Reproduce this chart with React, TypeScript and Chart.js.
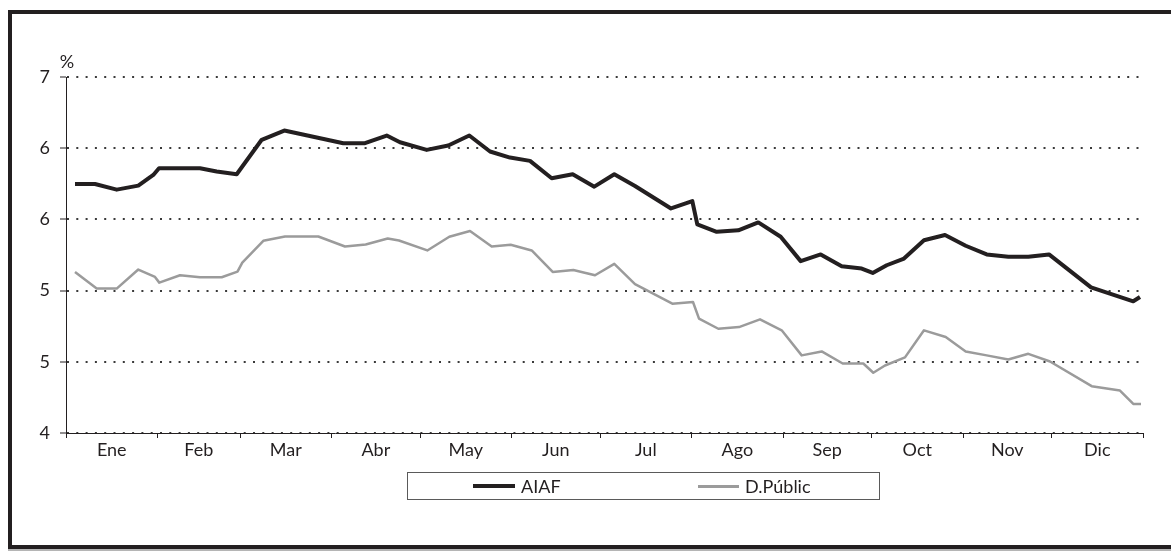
import React, { useEffect, useRef } from "react";
import { Chart, registerables } from "chart.js";

Chart.register(...registerables);

// ---- data ----
const monthLabels = ["Ene", "Feb", "Mar", "Abr", "May", "Jun", "Jul", "Ago", "Sep", "Oct", "Nov", "Dic"];
const monthStartDays = [0, 31, 59, 90, 120, 151, 181, 212, 243, 273, 304, 334, 365];
const yTickValues = [4.5, 5, 5.5, 6, 6.5, 7];
const yTickLabels = ["4", "5", "5", "6", "6", "7"];
const unitLabel = "%";
const seriesNames = ["AIAF", "D.Públic"];

const aiafDays = [
  3.05, 9.83, 17.18, 24.5, 29.59, 31.52, 45.41, 51.07, 57.85, 66.32,
  73.98, 93.98, 101.33, 108.69, 113.19, 122.24, 129.56, 136.68, 143.7, 150.47,
  157.25, 164.6, 171.72, 179.04, 185.82, 192.84, 205.04, 212.25, 213.95, 220.52,
  227.85, 234.62, 242.21, 248.99, 255.77, 262.89, 269.67, 273.39, 278.14, 284.0,
  290.78, 297.9, 304.91, 312.03, 319.35, 326.13, 333.14, 347.38, 361.71, 363.98,
];
const aiafValues = [
  6.249, 6.249, 6.209, 6.237, 6.312, 6.359, 6.359, 6.336, 6.317, 6.559,
  6.624, 6.535, 6.535, 6.589, 6.542, 6.488, 6.519, 6.589, 6.477, 6.434,
  6.411, 6.289, 6.317, 6.23, 6.317, 6.235, 6.077, 6.129, 5.965, 5.913,
  5.923, 5.979, 5.878, 5.707, 5.754, 5.671, 5.655, 5.624, 5.678, 5.725,
  5.854, 5.89, 5.815, 5.754, 5.737, 5.737, 5.754, 5.523, 5.425, 5.455,
];

const deudaDays = [
  3.05, 10.4, 17.18, 24.5, 30.16, 31.62, 38.64, 45.41, 52.77, 58.12,
  59.75, 66.87, 74.22, 85.51, 94.55, 101.57, 109.03, 112.85, 122.45, 129.9,
  136.92, 144.27, 150.71, 157.83, 164.94, 171.93, 179.28, 185.82, 192.84, 205.48,
  212.49, 214.53, 221.07, 228.08, 235.2, 242.55, 249.33, 256.11, 263.23, 270.21,
  273.6, 277.56, 284.34, 290.78, 298.14, 304.91, 312.03, 319.35, 326.13, 333.48,
  347.61, 357.2, 361.71, 364.32,
];
const deudaValues = [
  5.631, 5.514, 5.514, 5.648, 5.596, 5.556, 5.608, 5.594, 5.594, 5.633,
  5.697, 5.85, 5.88, 5.88, 5.81, 5.824, 5.866, 5.852, 5.782, 5.878,
  5.918, 5.81, 5.822, 5.782, 5.631, 5.645, 5.608, 5.688, 5.545, 5.408,
  5.42, 5.303, 5.232, 5.244, 5.298, 5.221, 5.045, 5.073, 4.988, 4.988,
  4.923, 4.974, 5.031, 5.221, 5.174, 5.073, 5.045, 5.016, 5.056, 5.002,
  4.829, 4.798, 4.704, 4.704,
];

// ---- styles ----
const FONT = "Lato, 'Open Sans', sans-serif";
const INK = "#231f20";
const GREY = "#9b9b9b";

const monthMidDays = monthLabels.map((_, i) => (monthStartDays[i] + monthStartDays[i + 1]) / 2);
const xTickValues = [...monthStartDays, ...monthMidDays].sort((a, b) => a - b);
const isBoundary = (v: number) => monthStartDays.some((d) => Math.abs(d - v) < 0.001);

const percentPlugin = {
  id: "percentUnit",
  afterDraw(chart: any) {
    const { ctx, chartArea } = chart;
    ctx.save();
    ctx.font = `18px ${FONT}`;
    ctx.fillStyle = INK;
    ctx.textAlign = "center";
    ctx.textBaseline = "alphabetic";
    ctx.fillText(unitLabel, chartArea.left + 1, chartArea.top - 9);
    ctx.restore();
  },
};

export default function App() {
  const ref = useRef<HTMLCanvasElement | null>(null);

  useEffect(() => {
    if (!ref.current) return;
    const chart = new Chart(ref.current, {
      type: "line",
      data: {
        datasets: [
          {
            label: seriesNames[0],
            data: aiafDays.map((d, i) => ({ x: d, y: aiafValues[i] })),
            borderColor: INK,
            borderWidth: 4,
            pointRadius: 0,
            tension: 0,
            borderJoinStyle: "round",
            fill: false,
          },
          {
            label: seriesNames[1],
            data: deudaDays.map((d, i) => ({ x: d, y: deudaValues[i] })),
            borderColor: GREY,
            borderWidth: 2.5,
            pointRadius: 0,
            tension: 0,
            borderJoinStyle: "round",
            fill: false,
          },
        ],
      },
      options: {
        animation: false,
        responsive: false,
        devicePixelRatio: 1,
        layout: { padding: { left: 0, right: 28, top: 77, bottom: 0 } },
        plugins: { legend: { display: false }, tooltip: { enabled: false }, title: { display: false } },
        scales: {
          x: {
            type: "linear",
            min: 0,
            max: 365,
            afterBuildTicks: (s: any) => {
              s.ticks = xTickValues.map((v) => ({ value: v }));
            },
            afterFit: (s: any) => {
              s.height = 118;
            },
            ticks: {
              autoSkip: false,
              maxRotation: 0,
              minRotation: 0,
              padding: 1,
              color: INK,
              font: { family: FONT, size: 18 },
              callback: (v: any) => {
                const i = monthMidDays.findIndex((m) => Math.abs(m - Number(v)) < 0.001);
                return i >= 0 ? monthLabels[i] : "";
              },
            },
            grid: {
              drawOnChartArea: false,
              tickLength: 5,
              tickWidth: 1,
              tickColor: (ctx: any) => (ctx.tick && isBoundary(ctx.tick.value) ? INK : "rgba(0,0,0,0)"),
            },
            border: { color: INK, width: 1 },
          },
          y: {
            type: "linear",
            min: 4.5,
            max: 7,
            afterBuildTicks: (s: any) => {
              s.ticks = yTickValues.map((v) => ({ value: v }));
            },
            afterFit: (s: any) => {
              s.width = 66;
            },
            ticks: {
              padding: 10,
              color: INK,
              font: { family: FONT, size: 18 },
              callback: (v: any) => {
                const i = yTickValues.findIndex((t) => Math.abs(t - Number(v)) < 0.001);
                return i >= 0 ? yTickLabels[i] : "";
              },
            },
            grid: {
              color: "#3a3a3a",
              lineWidth: 2,
              tickLength: 6,
              tickWidth: 1,
              tickColor: INK,
            },
            border: { color: INK, width: 1, dash: [2, 7.3] },
          },
        },
      },
      plugins: [percentPlugin],
    } as any);
    return () => chart.destroy();
  }, []);

  return (
    <>
      <div
        style={{
          position: "absolute",
          left: 8,
          top: 10,
          width: 1159,
          height: 531,
          borderLeft: `4px solid ${INK}`,
          borderTop: `4px solid ${INK}`,
          borderBottom: `4px solid ${INK}`,
          background: "#fff",
        }}
      />
      <div style={{ position: "absolute", left: 8, top: 549, width: 1163, height: 2, background: "#b5b5b5" }} />
      <canvas
        ref={ref}
        width={1171}
        height={551}
        style={{ position: "absolute", left: 0, top: 0, width: 1171, height: 551, display: "block" }}
      />
      <div
        style={{
          position: "absolute",
          left: 407,
          top: 472,
          width: 471,
          height: 26,
          border: "1px solid #5a5a5a",
          fontFamily: FONT,
          fontSize: 18,
          color: INK,
        }}
      >
        <div style={{ position: "absolute", left: 65, top: 11, width: 42, height: 4, background: INK }} />
        <div style={{ position: "absolute", left: 113, top: 0, lineHeight: "26px", whiteSpace: "nowrap" }}>{seriesNames[0]}</div>
        <div style={{ position: "absolute", left: 290, top: 12, width: 41, height: 2.5, background: GREY }} />
        <div style={{ position: "absolute", left: 337, top: 0, lineHeight: "26px", whiteSpace: "nowrap" }}>{seriesNames[1]}</div>
      </div>
    </>
  );
}
